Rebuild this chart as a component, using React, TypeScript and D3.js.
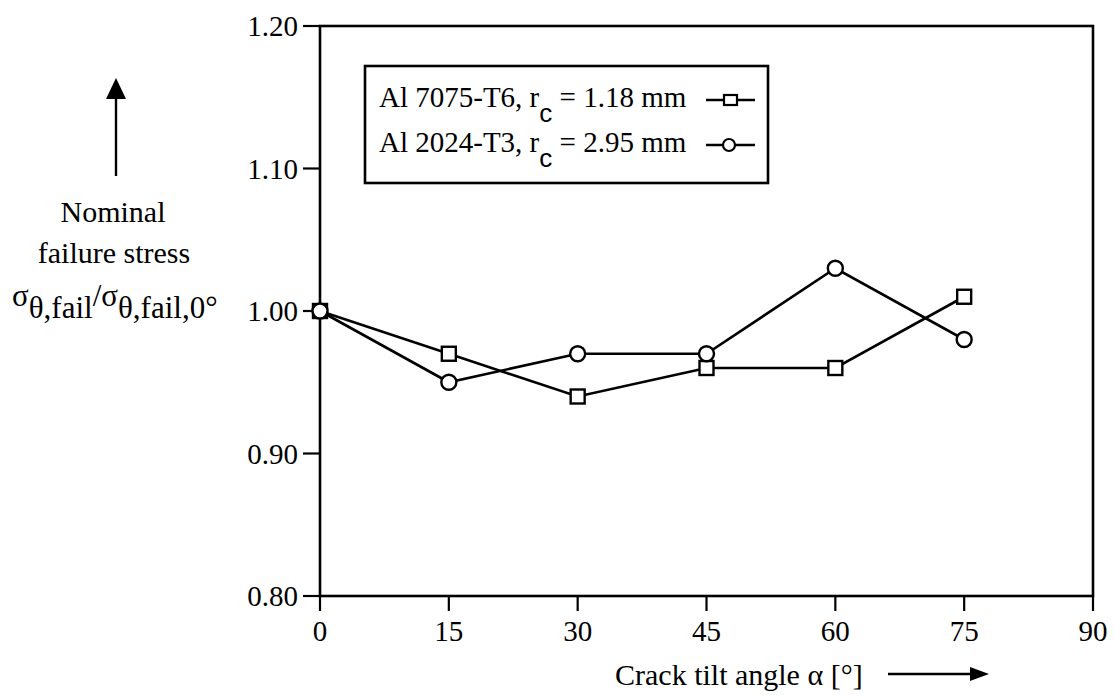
import React from 'react';
import * as d3 from 'd3';

// values
const angles = [0, 15, 30, 45, 60, 75];
const al7075 = [1.0, 0.97, 0.94, 0.96, 0.96, 1.01];
const al2024 = [1.0, 0.95, 0.97, 0.97, 1.03, 0.98];
const xTicks = [0, 15, 30, 45, 60, 75, 90];
const yTicks = [0.8, 0.9, 1.0, 1.1, 1.2];
const legendLabels = [
  { name: 'Al 7075-T6, r', sub: 'c', rest: ' = 1.18 mm', marker: 'square' },
  { name: 'Al 2024-T3, r', sub: 'c', rest: ' = 2.95 mm', marker: 'circle' },
];

const W = 1115;
const H = 695;
const FONT = '"Liberation Serif", "Times New Roman", serif';

const App = () => {
  const x = d3.scaleLinear().domain([0, 90]).range([320, 1093]);
  const y = d3.scaleLinear().domain([0.8, 1.2]).range([596, 26]);

  const line = d3.line<number>()
    .x((_, i) => x(angles[i]))
    .y(d => y(d));

  const sq = 14;
  const cr = 7.5;

  return (
    <svg width={W} height={H} style={{ position: 'absolute', left: 0, top: 0, background: '#fff' }}
      fontFamily={FONT} fill="#000">
      {/* plot frame */}
      <rect x={x(0)} y={y(1.2)} width={x(90) - x(0)} height={y(0.8) - y(1.2)}
        fill="none" stroke="#000" strokeWidth={2.6} />

      {/* y ticks */}
      {yTicks.map(t => (
        <g key={'y' + t}>
          <line x1={x(0) - 17} x2={x(0)} y1={y(t)} y2={y(t)} stroke="#000" strokeWidth={2.2} />
          <text x={x(0) - 22} y={y(t)} dy="0.35em" textAnchor="end" fontSize={29}>{t.toFixed(2)}</text>
        </g>
      ))}

      {/* x ticks */}
      {xTicks.map(t => (
        <g key={'x' + t}>
          <line x1={x(t)} x2={x(t)} y1={y(0.8)} y2={y(0.8) + 15} stroke="#000" strokeWidth={2.2} />
          <text x={x(t)} y={641} textAnchor="middle" fontSize={29}>{t}</text>
        </g>
      ))}

      {/* series lines */}
      <path d={line(al7075) || ''} fill="none" stroke="#000" strokeWidth={2.6} />
      <path d={line(al2024) || ''} fill="none" stroke="#000" strokeWidth={2.6} />

      {al7075.map((v, i) => (
        <rect key={'s' + i} x={x(angles[i]) - sq / 2} y={y(v) - sq / 2} width={sq} height={sq}
          fill="#fff" stroke="#000" strokeWidth={2.4} />
      ))}
      {al2024.map((v, i) => (
        <circle key={'c' + i} cx={x(angles[i])} cy={y(v)} r={cr}
          fill="#fff" stroke="#000" strokeWidth={2.4} />
      ))}

      {/* legend */}
      <rect x={365} y={66} width={403} height={117} fill="#fff" stroke="#000" strokeWidth={2.6} />
      {legendLabels.map((l, i) => {
        const by = 107 + i * 45;
        const my = by - 7;
        return (
          <g key={'l' + i}>
            <text x={379} y={by} fontSize={29}>
              {l.name}
              <tspan dy={15} fontSize={26} fontFamily='"Liberation Sans", Arial, sans-serif'>{l.sub}</tspan>
              <tspan dy={-15}>{l.rest}</tspan>
            </text>
            <line x1={706} x2={755} y1={my} y2={my} stroke="#000" strokeWidth={2.4} />
            {l.marker === 'square'
              ? <rect x={724} y={my - 5} width={13} height={10} fill="#fff" stroke="#000" strokeWidth={2.2} />
              : <circle cx={729} cy={my} r={6} fill="#fff" stroke="#000" strokeWidth={2.2} />}
          </g>
        );
      })}

      {/* y axis title with arrow */}
      <line x1={116} x2={116} y1={176} y2={92} stroke="#000" strokeWidth={2.4} />
      <path d="M106,99 L116,78 L126,99 Z" fill="#000" />
      <text x={113} y={222} textAnchor="middle" fontSize={30}>Nominal</text>
      <text x={114} y={263} textAnchor="middle" fontSize={30}>failure stress</text>
      <text x={12} y={306} fontSize={31}>
        σ<tspan dy={12}>θ,fail</tspan><tspan dy={-12}>/σ</tspan><tspan dy={12}>θ,fail,0°</tspan>
      </text>

      {/* x axis title with arrow */}
      <text x={615} y={685} fontSize={30}>Crack tilt angle α [°]</text>
      <line x1={888} x2={975} y1={674} y2={674} stroke="#000" strokeWidth={2.4} />
      <path d="M970,667 L989,674 L970,681 Z" fill="#000" />
    </svg>
  );
};

export default App;
